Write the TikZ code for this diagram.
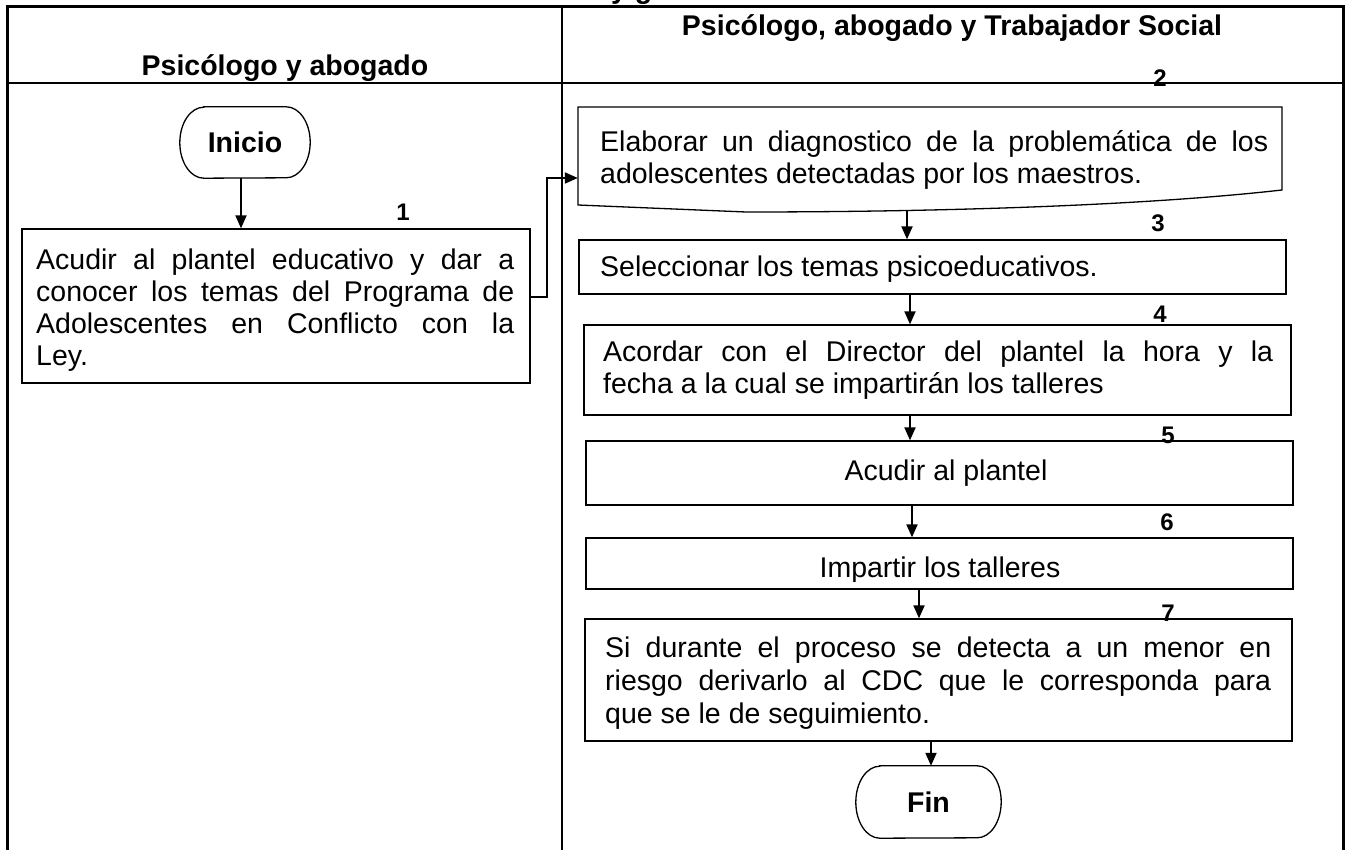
\documentclass[tikz,border=0pt]{standalone}
\usepackage{fontspec}
\setmainfont{Liberation Sans}
\usetikzlibrary{arrows.meta}
\begin{document}
\begin{tikzpicture}[x=1pt,y=-1pt,
  body/.style={font=\fontsize{28.5}{32}\selectfont, inner sep=0pt},
  hdr/.style={font=\fontsize{28.5}{32}\selectfont\bfseries},
  num/.style={font=\fontsize{24}{28}\selectfont\bfseries, inner sep=0pt, anchor=base},
  boxline/.style={draw=black, line width=1.3pt},
  rect/.style={boxline, inner sep=0pt},
  frame/.style={inner sep=0pt},
  arr/.style={line width=2pt, -{Triangle[length=13pt,width=11pt]}},
]
\useasboundingbox (0,0) rectangle (1347,850);
% clipped title fragment
\begin{scope}
\clip (0,0) rectangle (1347,850);
\node[hdr, anchor=base west, inner sep=0pt] (frag) at (611,-1) {y g};
\end{scope}
% table
\draw[line width=3pt, line join=miter] (7,850) -- (7,7) -- (1343,7) -- (1343,850);
\draw[line width=2pt] (7,83) -- (1343,83);
\draw[line width=2pt] (562,7) -- (562,850);
\node[hdr, anchor=base] (h1) at (285,76) {Psicólogo y abogado};
\node[hdr, anchor=base] (h2) at (952,36) {Psicólogo, abogado y Trabajador Social};

% Inicio
\node[hdr, frame, minimum width=130pt, minimum height=71pt] (inicio) at (245,142.5) {Inicio};
\draw[boxline] ([xshift=24pt]inicio.north west) -- ([xshift=-24pt]inicio.north east)
  arc[start angle=90,end angle=-90,x radius=24pt,y radius=35.5pt]
  -- ([xshift=24pt]inicio.south west)
  arc[start angle=270,end angle=90,x radius=24pt,y radius=35.5pt] -- cycle;

% Box 1
\node[rect, minimum width=508pt, minimum height=154pt] (b1) at (276,306) {};
\begin{scope}
\clip (b1.north west) rectangle ([yshift=13pt]b1.south east);
\node[body, anchor=base west] (b1t) at (36,270) {\parbox[t]{478pt}{%
\makebox[478pt][s]{Acudir al plantel educativo y dar a}\\
\makebox[478pt][s]{conocer los temas del Programa de}\\
\makebox[478pt][s]{Adolescentes en Conflicto con la}\\
Ley.}};
\end{scope}

% Box 2 (document)
\node[frame, minimum width=704pt, minimum height=98pt] (b2) at (930,156) {};
\draw[boxline] (578,205) -- (578,107) -- (1282,107) -- (1282,190)
  .. controls (1150,205) and (950,212) .. (746,212) -- cycle;
\coordinate (b2w) at (907,210.5);
\node[body, anchor=base west] (b2t) at (600,152) {\parbox[t]{668pt}{%
\makebox[668pt][s]{Elaborar un diagnostico de la problemática de los}\\
adolescentes detectadas por los maestros.}};

% Box 3
\node[rect, minimum width=707pt, minimum height=54pt] (b3) at (932.5,267) {};
\node[body, anchor=base west] (b3t) at (600,277) {Seleccionar los temas psicoeducativos.};

% Box 4
\node[rect, minimum width=707pt, minimum height=90pt] (b4) at (937.5,370) {};
\node[body, anchor=base west] (b4t) at (603,362) {\parbox[t]{670pt}{%
\makebox[670pt][s]{Acordar con el Director del plantel la hora y la}\\
fecha a la cual se impartirán los talleres}};

% Box 5
\node[rect, minimum width=707pt, minimum height=64pt] (b5) at (939.5,473) {};
\node[body, anchor=base] (b5t) at (946,480) {Acudir al plantel};

% Box 6
\node[rect, minimum width=707pt, minimum height=51pt] (b6) at (939.5,563.5) {};
\begin{scope}
\clip (b6.north west) rectangle ([yshift=8pt]b6.south east);
\node[body, anchor=base] (b6t) at (940,577) {Impartir los talleres};
\end{scope}

% Box 7
\node[rect, minimum width=707pt, minimum height=122pt] (b7) at (938.5,680) {};
\node[body, font=\fontsize{28.5}{33}\selectfont, anchor=base west] (b7t) at (605,657) {\parbox[t]{666pt}{%
\makebox[666pt][s]{Si durante el proceso se detecta a un menor en}\\
\makebox[666pt][s]{riesgo derivarlo al CDC que le corresponda para}\\
que se le de seguimiento.}};

% Fin
\node[hdr, frame, minimum width=145pt, minimum height=72pt] (fin) at (928.5,802) {Fin};
\draw[boxline] ([xshift=24pt]fin.north west) -- ([xshift=-24pt]fin.north east)
  arc[start angle=90,end angle=-90,x radius=24pt,y radius=36pt]
  -- ([xshift=24pt]fin.south west)
  arc[start angle=270,end angle=90,x radius=24pt,y radius=36pt] -- cycle;

% numbers
\node[num] (n1) at (403,221) {1};
\node[num] (n2) at (1160,87) {2};
\node[num] (n3) at (1158,232) {3};
\node[num] (n4) at (1160,323) {4};
\node[num] (n5) at (1168,443) {5};
\node[num] (n6) at (1167,530) {6};
\node[num] (n7) at (1168,621) {7};

% connectors
\draw[arr] ([xshift=-4pt]inicio.south) -- ([xshift=-35pt]b1.north);
\draw[arr] ([yshift=9pt]b1.east) -- ++(16,0) |- ([yshift=-22pt]b2.west);
\draw[arr] (b2w) -- ([xshift=-25.5pt]b3.north);
\draw[arr] ([xshift=-22.5pt]b3.south) -- ([xshift=-27.5pt]b4.north);
\draw[arr] ([xshift=-27.5pt]b4.south) -- ([xshift=-29.5pt]b5.north);
\draw[arr] ([xshift=-27.5pt]b5.south) -- ([xshift=-27.5pt]b6.north);
\draw[arr] ([xshift=-20.5pt]b6.south) -- ([xshift=-19.5pt]b7.north);
\draw[arr] ([xshift=-7.5pt]b7.south) -- ([xshift=2.5pt]fin.north);
\end{tikzpicture}
\end{document}
